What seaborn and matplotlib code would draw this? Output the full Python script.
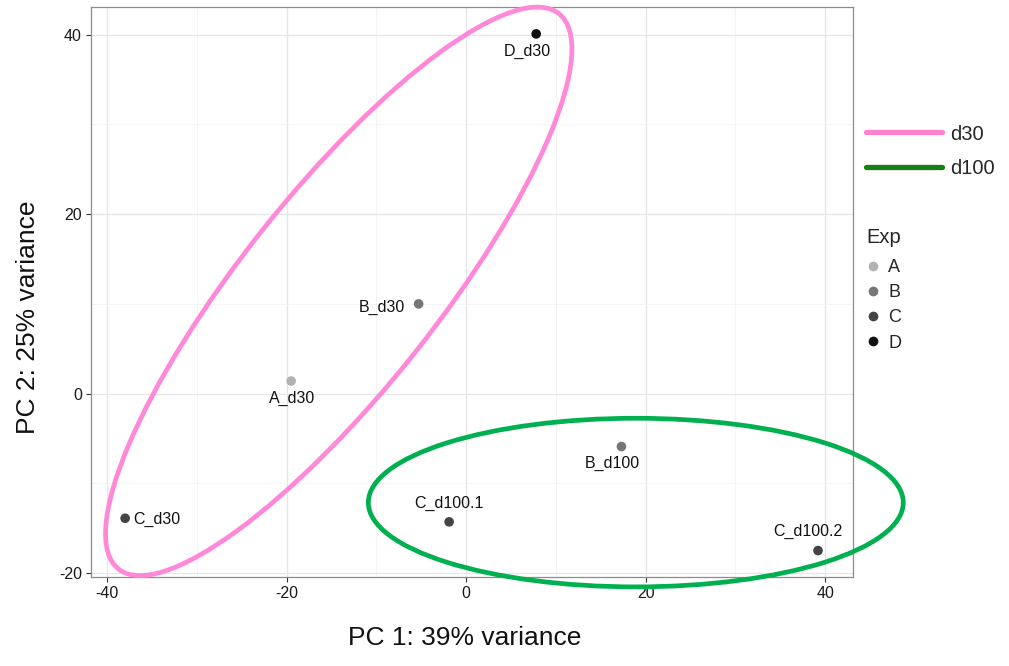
import matplotlib
matplotlib.use("Agg")
import matplotlib.pyplot as plt
from matplotlib.patches import Ellipse
from matplotlib.lines import Line2D
from matplotlib.ticker import MultipleLocator
import seaborn as sns
import pandas as pd

# ---- data ----
sample_names = ["D_d30", "B_d30", "A_d30", "C_d30", "B_d100", "C_d100.1", "C_d100.2"]
pc1 = [7.8, -5.3, -19.5, -38.0, 17.3, -1.9, 39.2]
pc2 = [40.1, 10.0, 1.4, -13.9, -5.9, -14.3, -17.5]
exp_group = ["D", "B", "A", "C", "B", "C", "C"]
exp_levels = ["A", "B", "C", "D"]
exp_colors = ["#b2b2b2", "#767676", "#444444", "#111111"]

ellipse_names = ["d30", "d100"]
ellipse_cx = [-14.2, 18.9]
ellipse_cy = [11.4, -12.15]
ellipse_w = [79.0, 59.6]
ellipse_h = [21.8, 18.8]
ellipse_angle = [51.6, 0.0]
ellipse_colors = ["#ff88d8", "#00b050"]
legend_colors = ["#ff80d0", "#167f16"]

x_ticks = [-40, -20, 0, 20, 40]
y_ticks = [-20, 0, 20, 40]
x_label = "PC 1: 39% variance"
y_label = "PC 2: 25% variance"

# label offsets in points (style)
label_offsets = {
    "D_d30": (-6.5, -12.5, "center"),
    "B_d30": (-10, -2.2, "right"),
    "A_d30": (0.7, -12.5, "center"),
    "C_d30": (5.8, -0.7, "left"),
    "B_d100": (-6.5, -12, "center"),
    "C_d100.1": (0, 13, "center"),
    "C_d100.2": (-7.2, 13.7, "center"),
}

df = pd.DataFrame({"name": sample_names, "PC1": pc1, "PC2": pc2, "Exp": exp_group})

sns.set_theme(style="white")
plt.rcParams["font.family"] = ["Liberation Sans", "DejaVu Sans"]
plt.rcParams["axes.unicode_minus"] = False

fig = plt.figure(figsize=(10.09, 6.66), dpi=100)
ax = fig.add_axes([0.0902, 0.1336, 0.7552, 0.8559])

ax.set_xlim(-41.8, 43.1)
ax.set_ylim(-20.45, 43.1)
ax.xaxis.set_minor_locator(MultipleLocator(10))
ax.yaxis.set_minor_locator(MultipleLocator(10))
ax.set_xticks(x_ticks)
ax.set_yticks(y_ticks)
ax.grid(which="major", color="#e6e6e6", lw=0.9, zorder=0)
ax.grid(which="minor", color="#f2f2f2", lw=0.6, zorder=0)
ax.set_axisbelow(True)
ax.tick_params(which="major", length=3.5, width=0.8, color="#333333",
               labelsize=11.5, labelcolor="#1a1a1a", pad=3, direction="out",
               bottom=True, left=True)
ax.tick_params(which="minor", length=0)
for s in ax.spines.values():
    s.set_color("#8c8c8c")
    s.set_linewidth(0.9)

sns.scatterplot(data=df, x="PC1", y="PC2", hue="Exp", hue_order=exp_levels,
                palette=exp_colors, s=48, edgecolor="none", legend=False,
                ax=ax, zorder=4)

for name, x, y in zip(sample_names, pc1, pc2):
    dx, dy, ha = label_offsets[name]
    ax.annotate(name, (x, y), xytext=(dx, dy), textcoords="offset points",
                ha=ha, va="center", fontsize=11.5, color="#111111", zorder=5)

for i in range(len(ellipse_names)):
    e = Ellipse((ellipse_cx[i], ellipse_cy[i]), ellipse_w[i], ellipse_h[i],
                angle=ellipse_angle[i], fill=False, edgecolor=ellipse_colors[i],
                lw=3.4, clip_on=False, zorder=3)
    ax.add_patch(e)

ax.set_xlabel(x_label, fontsize=19, color="#111111")
ax.set_ylabel(y_label, fontsize=19, color="#111111")
ax.xaxis.set_label_coords(0.49, -0.086)
ax.yaxis.set_label_coords(-0.067, 0.456)

# legend 1: ellipses
h1 = [Line2D([0], [0], color=c, lw=3.8) for c in legend_colors]
leg1 = fig.legend(h1, ellipse_names, loc="upper left",
                  bbox_to_anchor=(0.8583, 0.813), frameon=False, fontsize=14.5,
                  handlelength=3.78, handletextpad=0.4, labelspacing=0.75,
                  borderaxespad=0, borderpad=0)
# legend 2: Exp
h2 = [Line2D([0], [0], marker="o", color="none", markerfacecolor=c,
             markeredgecolor="none", markersize=7) for c in exp_colors]
leg2 = fig.legend(h2, exp_levels, title="Exp", loc="upper left",
                  bbox_to_anchor=(0.8583, 0.657), frameon=False, fontsize=13,
                  title_fontsize=14.5, handlelength=0.78, handletextpad=0.45,
                  labelspacing=0.46, borderaxespad=0, borderpad=0)
leg2._legend_box.align = "left"
leg2._legend_box.sep = 8.2

fig.savefig("out.png", dpi=100)
